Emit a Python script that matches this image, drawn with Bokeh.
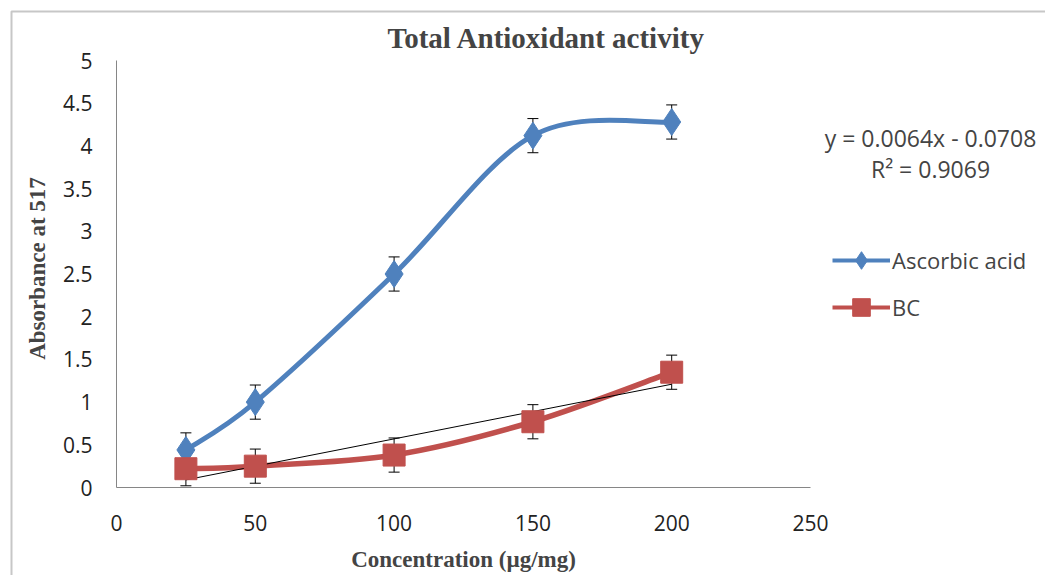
import math
from bokeh.plotting import figure
from bokeh.models import (ColumnDataSource, Whisker, TeeHead, Label, Legend, LegendItem,
                          FixedTicker, Range1d, BoxAnnotation)
from bokeh.embed import file_html
from bokeh.resources import INLINE

# ---- data ----
conc = [25, 50, 100, 150, 200]
ascorbic = [0.44, 1.00, 2.50, 4.12, 4.28]
ascorbic_err = [0.20, 0.20, 0.20, 0.20, 0.20]
bc = [0.22, 0.25, 0.38, 0.77, 1.35]
bc_err = [0.20, 0.20, 0.20, 0.20, 0.20]
trend_slope = 0.0064
trend_intercept = -0.0708
x_ticks = [0, 50, 100, 150, 200, 250]
y_ticks = [0, 0.5, 1, 1.5, 2, 2.5, 3, 3.5, 4, 4.5, 5]
x_max, y_max = 250, 5

BLUE = "#4F81BD"
RED = "#C0504D"
TICK_FONT = "Open Sans"
SERIF = "Liberation Serif"

# ---- layout (pixels) ----
W, H = 1045, 575
ORG_X, ORG_Y = 116, 487          # pixel position of the axes' origin
PLOT_W, PLOT_H = 694, 427        # pixel length of the x (0-250) and y (0-5) axes
XS = PLOT_W / x_max
YS = PLOT_H / y_max


def px(sx):
    return (sx - ORG_X) / XS


def py(sy):
    return (ORG_Y - sy) / YS


# whole canvas is the frame, so every text can sit in it; axes are fixed at 0
p = figure(width=W, height=H, output_backend="svg", toolbar_location=None,
           x_range=Range1d(px(0), px(W)), y_range=Range1d(py(H), py(0)),
           min_border_left=0, min_border_right=0, min_border_top=0, min_border_bottom=0)
p.outline_line_color = None
p.xgrid.grid_line_color = None
p.ygrid.grid_line_color = None
p.background_fill_color = "white"
p.border_fill_color = "white"

for ax in (p.xaxis[0], p.yaxis[0]):
    ax.fixed_location = 0
    ax.axis_line_color = "#868686"
    ax.axis_line_width = 1
    ax.major_tick_line_color = None
    ax.minor_tick_line_color = None
    ax.major_label_text_font = TICK_FONT
    ax.major_label_text_font_size = "21px"
    ax.major_label_text_color = "#222222"

p.xaxis.major_label_standoff = 21
p.yaxis.major_label_standoff = 18
p.xaxis.bounds = (0, x_max)
p.yaxis.bounds = (0, y_max)
p.xaxis.ticker = FixedTicker(ticks=x_ticks)
p.yaxis.ticker = FixedTicker(ticks=y_ticks)
p.yaxis.major_label_overrides = {t: ("%g" % t) for t in y_ticks}

# outer chart border: only its top and left edges fall inside the canvas
p.add_layout(BoxAnnotation(left=px(11), right=px(W + 20), top=py(11), bottom=py(H + 20),
                           fill_alpha=0, line_color="#444444", line_width=2))


def smooth_bezier(xs, ys):
    """Excel-style smoothed line: Catmull-Rom segments as cubic Beziers."""
    n = len(xs)
    d = dict(x0=[], y0=[], x1=[], y1=[], cx0=[], cy0=[], cx1=[], cy1=[])
    for i in range(n - 1):
        xm, ym = (xs[i - 1], ys[i - 1]) if i > 0 else (xs[i], ys[i])
        xp, yp = (xs[i + 2], ys[i + 2]) if i + 2 < n else (xs[i + 1], ys[i + 1])
        d["x0"].append(xs[i]); d["y0"].append(ys[i])
        d["x1"].append(xs[i + 1]); d["y1"].append(ys[i + 1])
        d["cx0"].append(xs[i] + (xs[i + 1] - xm) / 6.0)
        d["cy0"].append(ys[i] + (ys[i + 1] - ym) / 6.0)
        d["cx1"].append(xs[i + 1] - (xp - xs[i]) / 6.0)
        d["cy1"].append(ys[i + 1] - (yp - ys[i]) / 6.0)
    return ColumnDataSource(d)


# linear trendline for BC
tx = [conc[0], conc[-1]]
ty = [trend_slope * x + trend_intercept for x in tx]

# error bars
for ys, es in ((ascorbic, ascorbic_err), (bc, bc_err)):
    src = ColumnDataSource(dict(x=conc, lo=[y - e for y, e in zip(ys, es)],
                                hi=[y + e for y, e in zip(ys, es)]))
    w = Whisker(source=src, base="x", lower="lo", upper="hi", line_color="black", line_width=1,
                upper_head=TeeHead(size=11, line_color="black", line_width=1),
                lower_head=TeeHead(size=11, line_color="black", line_width=1))
    p.add_layout(w)

p.bezier(source=smooth_bezier(conc, ascorbic), x0="x0", y0="y0", x1="x1", y1="y1",
         cx0="cx0", cy0="cy0", cx1="cx1", cy1="cy1", line_color=BLUE, line_width=5)
p.bezier(source=smooth_bezier(conc, bc), x0="x0", y0="y0", x1="x1", y1="y1",
         cx0="cx0", cy0="cy0", cx1="cx1", cy1="cy1", line_color=RED, line_width=5.5)
p.line(tx, ty, line_color="black", line_width=1)

# zero-length lines (hidden under the first marker) only used for the legend glyph
la = p.line([conc[0]] * 2, [ascorbic[0]] * 2, line_color=BLUE, line_width=4)
lb = p.line([conc[0]] * 2, [bc[0]] * 2, line_color=RED, line_width=4)

sa = p.scatter(conc, ascorbic, marker="diamond", size=27, fill_color=BLUE, line_color=BLUE)
sb = p.scatter(conc, bc, marker="square", size=22, fill_color=RED, line_color=RED)

legend = Legend(items=[LegendItem(label="Ascorbic acid", renderers=[la, sa]),
                       LegendItem(label="BC", renderers=[lb, sb])],
                location=(832, 246), glyph_width=58, glyph_height=44,
                label_text_font=TICK_FONT, label_text_font_size="22px",
                label_standoff=2, spacing=3, padding=0, margin=0,
                border_line_color=None, background_fill_alpha=0)
p.add_layout(legend)

# title, axis titles and trendline equation
p.add_layout(Label(x=px(546), y=py(37), text="Total Antioxidant activity", text_font=SERIF,
                   text_font_style="bold", text_font_size="29px", text_align="center",
                   text_baseline="middle"))
p.add_layout(Label(x=px(463), y=py(559), text="Concentration (µg/mg)", text_font=SERIF,
                   text_font_style="bold", text_font_size="23px", text_align="center",
                   text_baseline="middle"))
p.add_layout(Label(x=px(37), y=py(268), text="Absorbance at 517", text_font=SERIF,
                   text_font_style="bold", text_font_size="23px", text_align="center",
                   text_baseline="middle", angle=math.pi / 2))
p.add_layout(Label(x=px(930), y=py(137), text="y = 0.0064x - 0.0708", text_font=TICK_FONT,
                   text_font_size="23px", text_align="center", text_baseline="middle"))
p.add_layout(Label(x=px(930), y=py(168), text="R² = 0.9069", text_font=TICK_FONT,
                   text_font_size="23px", text_align="center", text_baseline="middle"))

open("out.html", "w").write(file_html(p, INLINE))
